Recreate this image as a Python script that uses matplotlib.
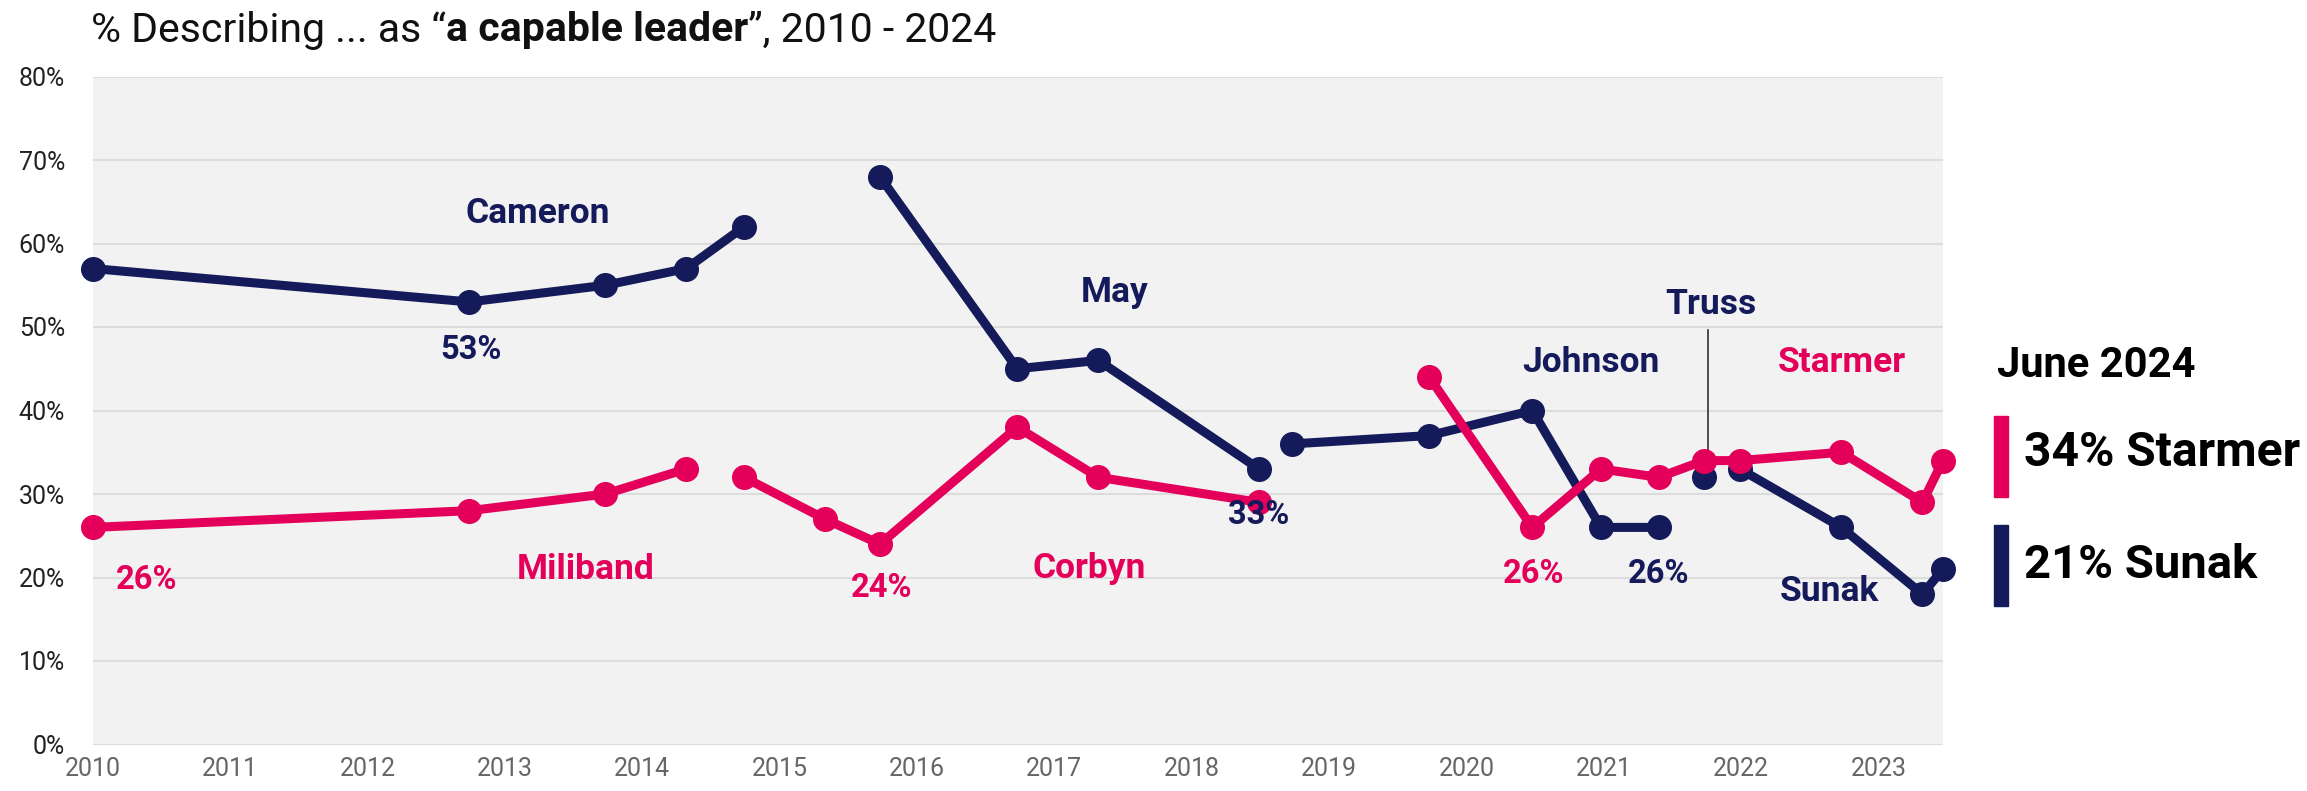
import matplotlib
matplotlib.use("Agg")
import matplotlib.pyplot as plt
from matplotlib.patches import Rectangle

plt.rcParams['font.family'] = ['Roboto', 'DejaVu Sans']

NAVY = '#141a5a'
PINK = '#e4005a'

# ---- data (x = position on the year axis, y = % describing as capable leader)
cameron_x = [2010.0, 2012.74, 2013.73, 2014.32, 2014.74]
cameron_y = [57, 53, 55, 57, 62]
may_x = [2015.73, 2016.73, 2017.32, 2018.49]
may_y = [68, 45, 46, 33]
johnson_x = [2018.73, 2019.73, 2020.48, 2020.98, 2021.40]
johnson_y = [36, 37, 40, 26, 26]
truss_x = [2021.73]
truss_y = [32]
sunak_x = [2021.99, 2022.73, 2023.32, 2023.47]
sunak_y = [33, 26, 18, 21]

miliband_x = [2010.0, 2012.74, 2013.73, 2014.32]
miliband_y = [26, 28, 30, 33]
corbyn_x = [2014.74, 2015.33, 2015.73, 2016.73, 2017.32, 2018.49]
corbyn_y = [32, 27, 24, 38, 32, 29]
starmer_x = [2019.73, 2020.48, 2020.98, 2021.40, 2021.73, 2021.99, 2022.73, 2023.32, 2023.47]
starmer_y = [44, 26, 33, 32, 34, 34, 35, 29, 34]

years = list(range(2010, 2024))
y_ticks = [0, 10, 20, 30, 40, 50, 60, 70, 80]

W, H = 2307, 791
fig = plt.figure(figsize=(W / 100, H / 100), dpi=100)
ax = fig.add_axes([93 / W, 1 - 744.5 / H, (1943 - 93) / W, (744.5 - 76.5) / H])
ax.set_facecolor('#f2f2f2')
ax.set_xlim(2010.0, 2023.47)
ax.set_ylim(0, 80)
for s in ax.spines.values():
    s.set_visible(False)
ax.set_yticks(y_ticks)
ax.set_yticklabels([f'{v}%' for v in y_ticks], fontsize=18, fontweight='normal', color='#222222')
ax.set_xticks(years)
ax.set_xticklabels([str(y) for y in years], fontsize=18, fontweight='normal', color='#666666')
ax.tick_params(axis='both', length=0)
ax.tick_params(axis='y', pad=20)
ax.tick_params(axis='x', pad=9)
ax.grid(axis='y', color='#dcdcdc', linewidth=1.5)
ax.set_axisbelow(True)

lw, ms = 6.5, 17
for xs, ys in [(cameron_x, cameron_y), (may_x, may_y), (johnson_x, johnson_y),
               (truss_x, truss_y), (sunak_x, sunak_y)]:
    ax.plot(xs, ys, color=NAVY, lw=lw, marker='o', ms=ms, clip_on=False, zorder=3,
            solid_capstyle='round')
for xs, ys in [(miliband_x, miliband_y), (corbyn_x, corbyn_y), (starmer_x, starmer_y)]:
    ax.plot(xs, ys, color=PINK, lw=lw, marker='o', ms=ms, clip_on=False, zorder=4,
            solid_capstyle='round')

# Truss pointer line
ax.plot([truss_x[0] + 0.03, truss_x[0] + 0.03], [34, 49.6], color='#333333', lw=1.2, zorder=2)

def lab(x, y, t, c, size=25.5):
    ax.text(x, y, t, color=c, fontsize=size, fontweight='bold', ha='center', va='center', zorder=6)

PS = 23.5
lab(2013.24, 63.6, 'Cameron', NAVY)
lab(2012.75, 47.2, '53%', NAVY, PS)
lab(2017.44, 54.1, 'May', NAVY)
lab(2018.49, 27.5, '33%', NAVY, PS)
lab(2020.91, 45.8, 'Johnson', NAVY)
lab(2021.78, 52.7, 'Truss', NAVY)
lab(2021.40, 20.4, '26%', NAVY, PS)
lab(2022.64, 18.3, 'Sunak', NAVY)
lab(2010.39, 19.7, '26%', PINK, PS)
lab(2013.59, 21.0, 'Miliband', PINK)
lab(2015.74, 18.7, '24%', PINK, PS)
lab(2017.25, 21.1, 'Corbyn', PINK)
lab(2020.49, 20.4, '26%', PINK, PS)
lab(2022.73, 45.8, 'Starmer', PINK)

# Title with bold part
fig.canvas.draw()
renderer = fig.canvas.get_renderer()
tx, ty = 91 / W, 1 - 30 / H
parts = [('% Describing ... as \u201c', 'normal'), ('a capable leader', 'bold'), ('\u201d, 2010 - 2024', 'normal')]
for txt, wt in parts:
    t = fig.text(tx, ty, txt, fontsize=29.5, fontweight=wt, color='#111111', ha='left', va='center')
    bb = t.get_window_extent(renderer)
    tx += bb.width / W

# Right-hand summary
fig.text(1997 / W, 1 - 366 / H, 'June 2024', fontsize=30, fontweight='bold', color='#000000',
         ha='left', va='center')
fig.patches.append(Rectangle((1994 / W, 1 - 497 / H), 14 / W, 81 / H, transform=fig.transFigure,
                             color=PINK, figure=fig))
fig.patches.append(Rectangle((1994 / W, 1 - 606 / H), 14 / W, 81 / H, transform=fig.transFigure,
                             color=NAVY, figure=fig))
fig.text(2024 / W, 1 - 453 / H, '34% Starmer', fontsize=34.5, fontweight='bold', color='#000000',
         ha='left', va='center')
fig.text(2024 / W, 1 - 565 / H, '21% Sunak', fontsize=34, fontweight='bold', color='#000000',
         ha='left', va='center')

fig.savefig('out.png', dpi=100)
